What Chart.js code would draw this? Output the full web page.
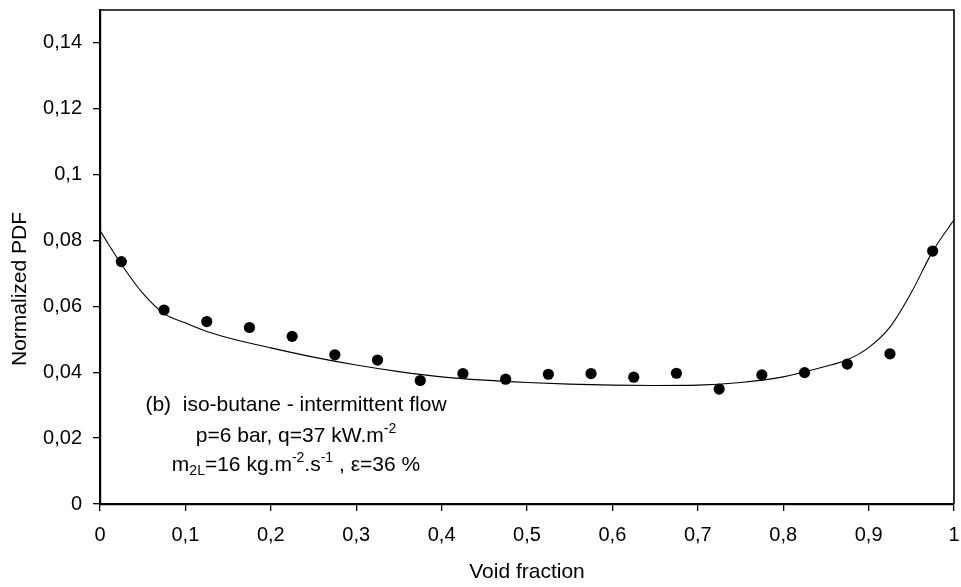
<!DOCTYPE html>
<html>
<head>
<meta charset="utf-8">
<script src="https://cdn.jsdelivr.net/npm/chart.js@4/dist/chart.umd.min.js"></script>
<style>
  html, body { margin: 0; padding: 0; background: #fff; }
  #wrap { width: 961px; height: 587px; position: relative; }
</style>
</head>
<body>
<div id="wrap"><canvas id="c" width="961" height="587"></canvas></div>
<script>
// ---- data ----
const pointX = [0.025, 0.075, 0.125, 0.175, 0.225, 0.275, 0.325, 0.375, 0.425, 0.475,
                0.525, 0.575, 0.625, 0.675, 0.725, 0.775, 0.825, 0.875, 0.925, 0.975];
const pointY = [0.0736, 0.0589, 0.0554, 0.0536, 0.0509, 0.0453, 0.0437, 0.0375, 0.0396, 0.0379,
                0.0394, 0.0396, 0.0385, 0.0397, 0.0349, 0.0392, 0.0399, 0.0425, 0.0456, 0.0768];

const curveX = [0, 0.025, 0.05, 0.075, 0.1, 0.125, 0.15, 0.2, 0.25, 0.3, 0.35, 0.4, 0.45, 0.5,
                0.55, 0.6, 0.65, 0.7, 0.75, 0.8, 0.85, 0.875, 0.9, 0.925, 0.95, 0.975, 1];
const curveY = [0.083, 0.0728, 0.0640, 0.0578, 0.0550, 0.0524, 0.0505, 0.0474, 0.0446, 0.0422,
                0.0402, 0.0386, 0.0376, 0.0369, 0.0364, 0.0361, 0.0360, 0.0361, 0.0369, 0.0386,
                0.0418, 0.0438, 0.0475, 0.0537, 0.0642, 0.0767, 0.0863];

const xTickValues = [0, 0.1, 0.2, 0.3, 0.4, 0.5, 0.6, 0.7, 0.8, 0.9, 1];
const xTickLabels = ['0', '0,1', '0,2', '0,3', '0,4', '0,5', '0,6', '0,7', '0,8', '0,9', '1'];
const yTickValues = [0, 0.02, 0.04, 0.06, 0.08, 0.1, 0.12, 0.14];
const yTickLabels = ['0', '0,02', '0,04', '0,06', '0,08', '0,1', '0,12', '0,14'];

const xTitle = 'Void fraction';
const yTitle = 'Normalized PDF';
// annotation lines as runs: [text, kind] kind: n normal, sup, sub
const noteLines = [
  [['(b)  iso-butane - intermittent flow', 'n']],
  [['p=6 bar, q=37 kW.m', 'n'], ['-2', 'sup']],
  [['m', 'n'], ['2L', 'sub'], ['=16 kg.m', 'n'], ['-2', 'sup'], ['.s', 'n'], ['-1', 'sup'], [' , \u03b5=36 %', 'n']]
];

const FONT = '"Liberation Sans", Arial, Helvetica, sans-serif';

const pts = pointX.map((x, i) => ({x: x, y: pointY[i]}));
const crv = curveX.map((x, i) => ({x: x, y: curveY[i]}));

const extras = {
  id: 'extras',
  afterDraw(chart) {
    const ctx = chart.ctx;
    const a = chart.chartArea;
    ctx.save();
    // top and right frame
    ctx.strokeStyle = '#000';
    ctx.lineWidth = 1.6;
    ctx.beginPath();
    ctx.moveTo(a.left, a.top);
    ctx.lineTo(a.right, a.top);
    ctx.lineTo(a.right, a.bottom);
    ctx.stroke();

    ctx.fillStyle = '#000';
    // x title
    ctx.font = '21px ' + FONT;
    ctx.textAlign = 'center';
    ctx.textBaseline = 'alphabetic';
    ctx.fillText(xTitle, (a.left + a.right) / 2, 578);
    // y title
    ctx.save();
    ctx.translate(26, 289);
    ctx.rotate(-Math.PI / 2);
    ctx.fillText(yTitle, 0, 0);
    ctx.restore();

    // annotation
    const cx = chart.scales.x.getPixelForValue(0.2295);
    const baselines = [411, 442, 471];
    noteLines.forEach((runs, li) => {
      let total = 0;
      const widths = runs.map(r => {
        ctx.font = (r[1] === 'n' ? '21px ' : '14px ') + FONT;
        const w = ctx.measureText(r[0]).width;
        total += w;
        return w;
      });
      let x = cx - total / 2;
      ctx.textAlign = 'left';
      runs.forEach((r, i) => {
        ctx.font = (r[1] === 'n' ? '21px ' : '14px ') + FONT;
        let y = baselines[li];
        if (r[1] === 'sup') y -= 9;
        if (r[1] === 'sub') y += 4;
        ctx.fillText(r[0], x, y);
        x += widths[i];
      });
    });
    ctx.restore();
  }
};

new Chart(document.getElementById('c'), {
  type: 'scatter',
  data: {
    datasets: [
      {
        label: 'fit',
        data: crv,
        showLine: true,
        borderColor: '#000',
        borderWidth: 1.1,
        pointRadius: 0,
        cubicInterpolationMode: 'monotone',
        fill: false,
        order: 2
      },
      {
        label: 'data',
        data: pts,
        showLine: false,
        pointRadius: 5.6,
        pointBackgroundColor: '#000',
        pointBorderColor: '#000',
        pointBorderWidth: 0,
        order: 1
      }
    ]
  },
  options: {
    responsive: false,
    animation: false,
    layout: { padding: { left: 0, right: 7, top: 10, bottom: 0 } },
    plugins: { legend: { display: false }, tooltip: { enabled: false } },
    scales: {
      x: {
        type: 'linear',
        min: 0, max: 1,
        afterBuildTicks(s) { s.ticks = xTickValues.map(v => ({value: v})); },
        afterFit(s) { s.height = 83; s.paddingLeft = 0; s.paddingRight = 0; },
        ticks: {
          color: '#000',
          font: { family: FONT, size: 20 },
          padding: 12,
          maxRotation: 0,
          autoSkip: false,
          callback(v) { const i = xTickValues.indexOf(v); return i >= 0 ? xTickLabels[i] : ''; }
        },
        grid: { drawOnChartArea: false, drawTicks: true, tickLength: 7, color: '#000', lineWidth: 1.3 },
        border: { display: true, color: '#000', width: 2.2 }
      },
      y: {
        type: 'linear',
        min: 0, max: 0.15,
        afterBuildTicks(s) { s.ticks = yTickValues.map(v => ({value: v})); },
        afterFit(s) { s.width = 100; s.paddingTop = 0; s.paddingBottom = 0; },
        ticks: {
          color: '#000',
          font: { family: FONT, size: 20 },
          padding: 11,
          autoSkip: false,
          callback(v) { const i = yTickValues.indexOf(v); return i >= 0 ? yTickLabels[i] : ''; }
        },
        grid: { drawOnChartArea: false, drawTicks: true, tickLength: 7, color: '#000', lineWidth: 1.3 },
        border: { display: true, color: '#000', width: 2.2 }
      }
    }
  },
  plugins: [extras]
});
</script>
</body>
</html>
